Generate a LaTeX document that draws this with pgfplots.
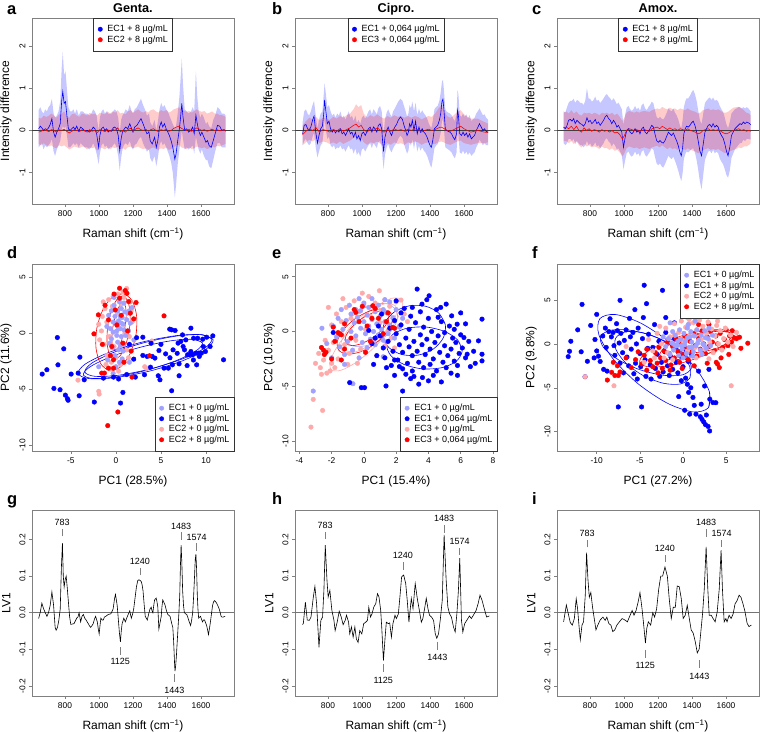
\documentclass[border=0pt]{standalone}
\usepackage{pgfplots}
\pgfplotsset{compat=1.18}
\usepackage{pgfplotstable}
\usepgfplotslibrary{fillbetween}
\usepackage{fontspec}
\setmainfont{Liberation Sans}

\definecolor{lblue}{RGB}{160,160,255}
\definecolor{lpink}{RGB}{255,170,170}
\tikzset{ann/.style={font=\fontsize{9}{10}\selectfont}}

\pgfplotsset{
  rpanel/.style={scale only axis, width=202pt, height=186pt,
    axis line style={draw=black!50}, tick pos=left, tick align=outside,
    major tick length=3pt, tick style={draw=black!50, line width=0.5pt},
    ticklabel style={font=\fontsize{8.4}{10}\selectfont},
    yticklabel style={rotate=90, anchor=south},
    /pgf/number format/assume math mode=true,
    /pgf/number format/1000 sep={},
    label style={font=\fontsize{12}{14}\selectfont},
    xlabel style={at={(axis description cs:0.5,0)}, anchor=base, yshift=-33.5pt},
    ylabel style={at={(axis description cs:-0.128,0.5)}, anchor=center},
    title style={font=\bfseries\fontsize{12.7}{14}\selectfont, at={(axis description cs:0.5,1)}, anchor=base, yshift=-0.5pt},
    legend cell align=left,
    legend style={font=\fontsize{9}{10}\selectfont, draw=black!80, inner xsep=3pt, inner ysep=6pt, row sep=0.5pt, nodes={inner ysep=1pt, inner xsep=1.5pt}},
    legend image code/.code={\path (0pt,0pt) (9pt,0pt); \draw[##1] plot coordinates {(3.5pt,0pt)};}},
  spec/.style={xmin=606, xmax=1794, xtick={800,1000,1200,1400,1600}},
  lvax/.style={spec, ymin=-0.228, ymax=0.281, ytick={-0.2,-0.1,0,0.1,0.2}, xlabel={Raman shift (cm\textsuperscript{−1})},
    yticklabel style={/pgf/number format/fixed, /pgf/number format/fixed zerofill, /pgf/number format/precision=1}},
  sc/.style={only marks, mark=*, mark size=2.3pt, forget plot},
  ell/.style={smooth, line width=0.6pt, forget plot, mark=none},
}

\begin{document}
% ---------- spectra: mean difference with band ----------
\pgfplotstableread{
x y lo hi
645 0.04 -0.40 0.48
655 0.10 -0.35 0.55
664 0.06 -0.30 0.45
674 0.00 -0.45 0.40
684 0.04 -0.35 0.50
694 0.02 -0.40 0.45
703 0.06 -0.35 0.55
713 0.14 -0.30 0.60
723 0.28 -0.20 0.75
733 -0.04 -0.50 0.40
742 -0.16 -0.60 0.30
752 -0.04 -0.45 0.35
762 0.04 -0.35 0.45
772 0.16 -0.25 0.70
781 0.72 0.00 1.50
787 0.92 0.10 1.85
795 0.64 0.05 1.30
803 0.68 0.10 1.40
811 0.36 -0.10 1.00
820 0.04 -0.40 0.55
830 0.00 -0.40 0.45
840 0.04 -0.35 0.45
850 0.08 -0.30 0.50
859 0.02 -0.35 0.40
869 0.10 -0.30 0.50
881 -0.02 -0.40 0.35
892 0.08 -0.30 0.45
904 0.04 -0.35 0.45
918 -0.02 -0.40 0.40
931 0.00 -0.40 0.40
943 -0.04 -0.45 0.35
955 0.00 -0.40 0.40
966 0.08 -0.30 0.50
976 0.04 -0.40 0.45
986 -0.08 -0.55 0.35
998 -0.40 -0.80 0.00
1005 -0.12 -0.55 0.30
1015 0.04 -0.35 0.45
1025 0.08 -0.30 0.50
1035 0.00 -0.40 0.40
1044 0.04 -0.35 0.45
1054 -0.04 -0.45 0.40
1064 0.00 -0.40 0.40
1074 -0.02 -0.40 0.40
1083 0.06 -0.35 0.45
1093 0.08 -0.30 0.50
1103 0.04 -0.40 0.45
1113 -0.12 -0.60 0.30
1122 -0.48 -0.95 -0.05
1130 -0.20 -0.65 0.25
1138 -0.04 -0.45 0.35
1146 0.02 -0.35 0.40
1157 0.08 -0.30 0.50
1169 0.04 -0.35 0.45
1181 0.16 -0.25 0.60
1192 0.04 -0.40 0.45
1200 -0.04 -0.45 0.40
1210 0.08 -0.35 0.50
1223 0.12 -0.30 0.55
1235 0.20 -0.20 0.65
1247 0.28 -0.15 0.75
1259 0.16 -0.30 0.60
1270 0.04 -0.40 0.50
1282 -0.08 -0.50 0.35
1294 -0.04 -0.45 0.40
1301 -0.24 -0.65 0.20
1313 -0.32 -0.75 0.10
1327 -0.16 -0.60 0.25
1337 -0.40 -0.85 0.00
1346 -0.24 -0.65 0.20
1356 0.08 -0.35 0.50
1366 0.20 -0.25 0.65
1375 0.08 -0.35 0.55
1385 0.16 -0.30 0.60
1395 0.04 -0.40 0.50
1405 -0.04 -0.50 0.45
1414 -0.12 -0.60 0.35
1424 -0.24 -0.75 0.25
1434 -0.40 -1.00 0.15
1446 -0.68 -1.58 0.05
1453 -0.56 -1.30 0.10
1463 -0.24 -0.80 0.40
1473 0.04 -0.45 0.80
1481 0.36 -0.20 1.30
1487 0.64 0.00 1.70
1494 0.32 -0.20 1.10
1504 0.00 -0.45 0.50
1516 0.04 -0.40 0.45
1527 -0.04 -0.45 0.40
1541 0.00 -0.40 0.45
1551 0.08 -0.35 0.55
1560 -0.08 -0.55 0.45
1570 0.36 -0.15 1.40
1578 0.16 -0.30 0.80
1586 0.00 -0.45 0.45
1596 -0.12 -0.55 0.30
1605 -0.04 -0.45 0.40
1617 -0.16 -0.60 0.30
1629 -0.28 -0.70 0.15
1638 -0.24 -0.70 0.20
1648 -0.36 -0.85 0.10
1660 -0.40 -0.90 0.05
1672 -0.24 -0.70 0.25
1683 -0.08 -0.50 0.35
1697 0.12 -0.30 0.55
1710 0.10 -0.30 0.50
1722 0.00 -0.40 0.40
1736 0.02 -0.40 0.40
1745 -0.02 -0.40 0.35
}\aBlue
\pgfplotstableread{
x y lo hi
645 -0.04 -0.32 0.30
660 -0.02 -0.35 0.28
675 0.02 -0.30 0.35
690 0.00 -0.35 0.32
705 -0.03 -0.38 0.35
720 0.02 -0.35 0.40
735 0.00 -0.40 0.35
750 -0.04 -0.42 0.30
765 0.02 -0.35 0.38
780 0.00 -0.38 0.40
795 0.03 -0.35 0.45
810 -0.02 -0.40 0.35
825 -0.06 -0.45 0.30
840 -0.02 -0.42 0.38
855 0.02 -0.38 0.40
870 0.00 -0.40 0.35
885 -0.03 -0.42 0.32
900 0.02 -0.38 0.40
915 0.00 -0.40 0.38
930 -0.04 -0.45 0.35
945 0.02 -0.40 0.42
960 -0.02 -0.42 0.38
975 0.00 -0.40 0.40
990 -0.05 -0.48 0.35
1005 0.02 -0.40 0.42
1020 0.00 -0.42 0.40
1035 -0.03 -0.45 0.38
1050 0.02 -0.40 0.45
1065 -0.02 -0.45 0.40
1080 0.03 -0.40 0.45
1095 0.00 -0.42 0.42
1110 0.06 -0.38 0.48
1125 -0.03 -0.45 0.40
1140 0.00 -0.42 0.42
1155 -0.04 -0.46 0.38
1170 0.02 -0.40 0.45
1185 0.05 -0.38 0.48
1200 0.00 -0.42 0.42
1215 0.03 -0.40 0.46
1230 0.06 -0.38 0.50
1245 0.02 -0.42 0.45
1260 0.00 -0.44 0.42
1275 0.03 -0.42 0.46
1290 -0.02 -0.46 0.42
1305 0.02 -0.42 0.48
1320 0.04 -0.40 0.50
1335 0.00 -0.44 0.45
1350 -0.03 -0.46 0.42
1365 0.02 -0.42 0.48
1380 0.00 -0.44 0.45
1395 0.03 -0.40 0.48
1410 -0.02 -0.46 0.42
1425 0.00 -0.44 0.45
1440 0.05 -0.40 0.50
1455 0.08 -0.36 0.52
1470 0.10 -0.34 0.55
1485 0.05 -0.40 0.50
1500 0.02 -0.42 0.46
1515 0.00 -0.44 0.44
1530 0.03 -0.40 0.46
1545 -0.02 -0.44 0.42
1560 0.02 -0.42 0.46
1575 0.06 -0.38 0.50
1590 0.03 -0.40 0.46
1605 0.00 -0.42 0.44
1620 0.02 -0.40 0.46
1635 -0.02 -0.44 0.40
1650 0.00 -0.42 0.42
1665 0.03 -0.38 0.45
1680 0.00 -0.40 0.40
1695 0.02 -0.36 0.40
1710 -0.01 -0.38 0.36
1725 0.01 -0.35 0.36
1745 0.00 -0.32 0.32
}\aRed
\pgfplotstableread{
x y lo hi
651 -0.08 -0.35 0.20
660 0.12 -0.25 0.45
670 0.14 -0.20 0.50
680 0.04 -0.30 0.40
689 0.00 -0.35 0.35
699 0.08 -0.30 0.45
709 0.24 -0.15 0.60
718 0.34 -0.05 0.70
728 -0.04 -0.40 0.35
738 -0.30 -0.64 0.05
747 -0.12 -0.50 0.25
757 0.04 -0.35 0.40
767 0.10 -0.30 0.45
775 0.40 0.00 0.85
780 0.72 0.30 1.12
788 0.44 0.00 0.85
796 0.16 -0.20 0.55
806 0.22 -0.15 0.60
815 0.04 -0.35 0.45
825 -0.04 -0.40 0.35
835 0.02 -0.35 0.40
844 -0.06 -0.45 0.30
854 0.00 -0.40 0.40
864 -0.04 -0.42 0.35
873 0.04 -0.35 0.45
883 -0.08 -0.45 0.30
893 -0.04 -0.42 0.35
903 -0.12 -0.50 0.25
912 -0.04 -0.42 0.35
922 0.04 -0.35 0.45
932 -0.08 -0.45 0.30
941 -0.04 -0.42 0.35
951 -0.16 -0.55 0.22
961 -0.04 -0.42 0.35
970 -0.20 -0.58 0.18
980 -0.12 -0.50 0.25
990 -0.24 -0.62 0.15
999 -0.08 -0.45 0.30
1009 -0.04 -0.42 0.35
1019 -0.12 -0.50 0.28
1028 -0.04 -0.42 0.35
1038 0.04 -0.35 0.45
1048 0.08 -0.30 0.50
1058 -0.04 -0.42 0.38
1067 0.08 -0.30 0.50
1077 0.04 -0.35 0.45
1087 -0.04 -0.42 0.38
1096 0.12 -0.28 0.52
1106 0.16 -0.25 0.58
1116 0.04 -0.38 0.45
1121 -0.24 -0.65 0.18
1127 -0.50 -0.92 -0.08
1135 -0.16 -0.58 0.25
1145 0.00 -0.40 0.42
1154 0.08 -0.32 0.50
1164 -0.04 -0.45 0.40
1174 -0.12 -0.52 0.32
1183 0.00 -0.42 0.45
1193 0.08 -0.35 0.52
1203 0.14 -0.30 0.60
1213 0.24 -0.20 0.68
1226 0.32 -0.12 0.75
1238 0.26 -0.18 0.70
1247 0.12 -0.32 0.58
1257 0.00 -0.45 0.45
1265 -0.12 -0.55 0.32
1273 -0.04 -0.48 0.40
1280 0.16 -0.28 0.60
1288 0.08 -0.36 0.52
1296 0.24 -0.20 0.68
1306 0.00 -0.44 0.45
1315 0.22 -0.22 0.66
1325 -0.08 -0.50 0.36
1335 0.08 -0.36 0.52
1344 -0.04 -0.48 0.40
1354 0.04 -0.40 0.48
1364 -0.04 -0.48 0.40
1373 -0.08 -0.52 0.36
1383 -0.16 -0.60 0.28
1393 -0.28 -0.72 0.16
1401 -0.36 -0.82 0.10
1408 -0.40 -0.88 0.06
1416 -0.24 -0.70 0.22
1426 0.04 -0.42 0.50
1435 0.08 -0.36 0.55
1445 0.12 -0.32 0.58
1455 0.24 -0.20 0.70
1463 0.40 -0.05 0.90
1470 0.68 0.20 1.15
1476 0.74 0.28 1.20
1482 0.48 0.05 0.95
1490 0.04 -0.40 0.50
1497 0.00 -0.42 0.45
1507 -0.02 -0.45 0.42
1517 -0.04 -0.48 0.40
1527 -0.08 -0.52 0.36
1536 -0.16 -0.60 0.28
1546 -0.22 -0.66 0.22
1556 -0.08 -0.52 0.40
1562 0.48 0.00 0.96
1567 0.36 -0.10 0.85
1575 -0.08 -0.52 0.36
1585 -0.12 -0.55 0.32
1594 -0.04 -0.48 0.40
1604 -0.12 -0.56 0.32
1614 -0.06 -0.50 0.38
1623 -0.16 -0.58 0.28
1633 -0.08 -0.52 0.36
1643 -0.20 -0.60 0.22
1652 -0.16 -0.56 0.26
1662 -0.12 -0.52 0.30
1672 0.00 -0.40 0.40
1682 0.08 -0.32 0.46
1691 0.16 -0.22 0.52
1701 0.08 -0.28 0.44
1711 0.00 -0.35 0.36
1721 0.04 -0.30 0.38
1730 -0.02 -0.35 0.30
1742 -0.04 -0.35 0.25
}\bBlue
\pgfplotstableread{
x y lo hi
651 -0.10 -0.35 0.12
670 -0.02 -0.28 0.22
690 0.04 -0.22 0.30
710 0.00 -0.26 0.26
730 0.06 -0.20 0.32
750 -0.04 -0.30 0.24
770 0.02 -0.26 0.30
790 0.00 -0.28 0.28
810 -0.04 -0.32 0.25
830 0.02 -0.28 0.32
850 -0.02 -0.32 0.28
870 0.04 -0.26 0.34
890 -0.02 -0.32 0.30
910 0.02 -0.28 0.36
930 0.06 -0.24 0.40
950 0.12 -0.18 0.50
965 0.15 -0.15 0.62
980 0.08 -0.22 0.55
995 0.12 -0.18 0.60
1010 0.02 -0.28 0.40
1030 -0.04 -0.34 0.30
1050 0.04 -0.28 0.36
1070 0.00 -0.30 0.32
1090 0.06 -0.26 0.38
1110 0.00 -0.32 0.32
1130 -0.04 -0.36 0.28
1150 0.02 -0.30 0.34
1170 -0.02 -0.34 0.30
1190 0.04 -0.28 0.36
1210 0.00 -0.32 0.32
1230 0.02 -0.30 0.34
1250 -0.02 -0.34 0.30
1270 0.03 -0.28 0.34
1290 0.00 -0.30 0.30
1310 0.04 -0.26 0.34
1330 0.02 -0.28 0.32
1350 -0.04 -0.34 0.26
1370 0.00 -0.30 0.30
1390 0.03 -0.28 0.34
1410 0.00 -0.32 0.32
1430 0.02 -0.32 0.40
1450 0.06 -0.28 0.52
1465 0.08 -0.26 0.58
1480 0.05 -0.28 0.50
1500 0.00 -0.32 0.34
1520 -0.02 -0.34 0.30
1540 0.02 -0.30 0.36
1560 0.06 -0.26 0.44
1580 0.10 -0.24 0.48
1600 0.04 -0.30 0.38
1620 0.00 -0.32 0.32
1640 -0.04 -0.34 0.28
1660 -0.02 -0.32 0.28
1680 0.00 -0.30 0.28
1700 -0.02 -0.30 0.24
1720 -0.04 -0.30 0.20
1742 -0.05 -0.28 0.16
}\bRed
\pgfplotstableread{
x y lo hi
645 0.08 -0.30 0.45
655 0.04 -0.35 0.42
665 0.12 -0.30 0.55
674 0.24 -0.20 0.65
684 0.26 -0.20 0.70
694 0.22 -0.25 0.70
704 0.28 -0.20 0.75
713 0.16 -0.32 0.65
723 0.24 -0.25 0.72
733 0.20 -0.30 0.70
743 0.16 -0.35 0.65
753 0.14 -0.35 0.65
762 0.10 -0.40 0.60
772 0.16 -0.35 0.70
782 0.30 -0.25 1.00
792 0.20 -0.35 0.75
801 0.24 -0.30 0.75
811 0.16 -0.38 0.68
821 0.20 -0.35 0.72
831 0.26 -0.28 0.80
840 0.16 -0.38 0.70
850 0.20 -0.35 0.72
860 0.12 -0.42 0.65
870 0.18 -0.36 0.70
880 0.24 -0.30 0.76
889 0.32 -0.22 0.82
899 0.36 -0.18 0.86
909 0.28 -0.26 0.80
919 0.24 -0.30 0.76
928 0.16 -0.38 0.70
938 0.24 -0.30 0.76
948 0.18 -0.36 0.70
958 0.08 -0.45 0.62
967 0.12 -0.42 0.66
977 0.04 -0.50 0.58
987 -0.04 -0.58 0.50
997 -0.40 -0.92 0.12
1007 -0.16 -0.70 0.38
1016 0.00 -0.54 0.54
1026 0.04 -0.50 0.58
1036 -0.04 -0.58 0.50
1046 -0.08 -0.62 0.46
1055 -0.04 -0.58 0.50
1065 0.04 -0.50 0.58
1075 -0.04 -0.58 0.50
1085 0.00 -0.54 0.54
1094 -0.08 -0.62 0.46
1104 0.04 -0.50 0.60
1114 0.08 -0.46 0.64
1124 -0.04 -0.58 0.52
1134 -0.08 -0.62 0.48
1143 -0.02 -0.56 0.55
1153 0.04 -0.50 0.60
1163 0.12 -0.42 0.68
1173 0.08 -0.46 0.64
1182 -0.08 -0.62 0.48
1192 -0.24 -0.78 0.32
1202 -0.28 -0.82 0.28
1212 -0.24 -0.78 0.32
1221 -0.28 -0.85 0.28
1231 -0.30 -0.88 0.26
1241 -0.24 -0.80 0.32
1251 -0.14 -0.70 0.42
1261 -0.04 -0.60 0.52
1270 -0.08 -0.64 0.48
1280 -0.12 -0.68 0.45
1290 -0.06 -0.62 0.52
1300 -0.16 -0.72 0.42
1309 -0.24 -0.82 0.36
1319 -0.36 -0.95 0.26
1329 -0.52 -1.10 0.12
1337 -0.60 -1.20 0.05
1345 -0.40 -1.00 0.25
1352 -0.08 -0.68 0.55
1360 0.04 -0.56 0.68
1368 0.10 -0.50 0.76
1378 0.08 -0.52 0.76
1388 0.12 -0.48 0.82
1397 0.18 -0.44 0.90
1407 0.22 -0.42 0.96
1417 0.12 -0.52 0.86
1427 -0.04 -0.70 0.70
1436 -0.24 -0.92 0.48
1446 -0.48 -1.20 0.25
1456 -0.60 -1.40 0.15
1466 -0.32 -1.05 0.40
1476 -0.04 -0.70 0.65
1485 0.04 -0.60 0.70
1495 0.12 -0.50 0.75
1505 0.14 -0.48 0.78
1515 0.08 -0.54 0.72
1524 0.16 -0.46 0.78
1534 0.08 -0.54 0.70
1544 0.12 -0.50 0.72
1554 0.08 -0.54 0.68
1563 -0.04 -0.66 0.58
1573 -0.12 -0.74 0.50
1583 -0.18 -0.80 0.44
1593 -0.32 -0.92 0.30
1602 -0.48 -1.05 0.15
1612 -0.60 -1.12 0.05
1622 -0.40 -0.95 0.20
1632 -0.12 -0.65 0.40
1642 -0.04 -0.55 0.45
1652 0.04 -0.45 0.50
1662 0.08 -0.40 0.52
1672 0.12 -0.35 0.55
1682 0.16 -0.30 0.55
1692 0.14 -0.30 0.52
1702 0.20 -0.22 0.55
1712 0.16 -0.25 0.52
1722 0.20 -0.20 0.55
1732 0.18 -0.20 0.52
1745 0.14 -0.22 0.45
}\cBlue
\pgfplotstableread{
x y lo hi
645 0.06 -0.25 0.42
660 0.08 -0.25 0.45
675 0.04 -0.30 0.40
690 0.10 -0.25 0.48
705 0.02 -0.32 0.40
720 0.10 -0.25 0.45
735 0.00 -0.35 0.38
750 -0.04 -0.40 0.35
765 0.06 -0.32 0.42
780 0.00 -0.38 0.40
795 0.04 -0.35 0.42
810 -0.02 -0.40 0.38
825 0.02 -0.38 0.42
840 0.00 -0.40 0.40
855 -0.04 -0.44 0.36
870 0.02 -0.38 0.42
885 -0.02 -0.42 0.40
900 0.00 -0.42 0.42
915 -0.04 -0.46 0.38
930 0.00 -0.42 0.42
945 -0.06 -0.48 0.36
960 -0.04 -0.46 0.40
975 -0.10 -0.52 0.32
990 -0.20 -0.62 0.22
1000 -0.14 -0.56 0.28
1015 0.00 -0.42 0.42
1030 0.04 -0.38 0.46
1045 0.02 -0.40 0.44
1060 0.00 -0.42 0.42
1075 0.02 -0.40 0.45
1090 -0.02 -0.44 0.42
1105 0.00 -0.42 0.45
1120 0.02 -0.40 0.46
1135 0.00 -0.42 0.45
1150 -0.02 -0.44 0.44
1165 0.04 -0.40 0.48
1180 0.06 -0.38 0.50
1195 0.08 -0.36 0.52
1210 0.04 -0.40 0.50
1225 0.10 -0.35 0.56
1240 0.06 -0.40 0.52
1255 0.02 -0.44 0.50
1270 0.06 -0.40 0.54
1285 0.02 -0.44 0.50
1300 0.04 -0.42 0.52
1315 0.00 -0.46 0.48
1330 0.04 -0.42 0.52
1345 0.02 -0.44 0.50
1360 0.00 -0.46 0.48
1375 0.04 -0.42 0.52
1390 0.00 -0.46 0.48
1405 -0.02 -0.48 0.46
1420 -0.04 -0.50 0.44
1435 -0.08 -0.54 0.40
1450 -0.06 -0.52 0.42
1465 0.00 -0.46 0.48
1480 0.02 -0.44 0.50
1495 0.04 -0.42 0.52
1510 0.00 -0.46 0.48
1525 0.02 -0.44 0.50
1540 0.00 -0.46 0.48
1555 0.02 -0.44 0.50
1570 -0.02 -0.48 0.46
1585 -0.06 -0.52 0.42
1600 -0.08 -0.54 0.42
1615 -0.06 -0.52 0.45
1630 -0.02 -0.48 0.50
1645 0.00 -0.46 0.54
1660 0.02 -0.44 0.55
1675 0.04 -0.40 0.56
1690 0.00 -0.42 0.52
1705 0.02 -0.38 0.48
1720 -0.02 -0.38 0.42
1735 0.00 -0.34 0.40
1745 -0.02 -0.30 0.36
}\cRed
% ---------- LV1 loadings ----------
\pgfplotstableread{
x y
645 -0.016
655 0.002
664 0.026
674 0.011
684 0.000
694 -0.010
703 0.000
713 0.020
723 0.057
733 0.020
742 -0.040
748 -0.048
756 -0.040
764 -0.020
772 0.010
779 0.125
785 0.190
790 0.100
795 0.070
801 0.090
807 0.100
813 0.070
820 0.030
827 -0.010
834 -0.032
853 -0.030
869 -0.015
876 -0.012
883 0.000
892 -0.025
900 -0.010
908 -0.005
916 -0.015
924 -0.020
937 -0.030
944 -0.036
951 -0.040
958 -0.036
966 -0.030
973 -0.018
980 -0.010
990 -0.025
996 -0.045
1001 -0.058
1006 -0.035
1011 -0.015
1018 -0.020
1025 -0.020
1032 -0.012
1040 -0.010
1054 -0.005
1070 -0.003
1083 0.010
1092 0.040
1097 0.050
1102 0.035
1107 0.020
1114 -0.020
1120 -0.055
1126 -0.080
1131 -0.050
1136 -0.030
1146 -0.015
1155 -0.025
1167 -0.010
1181 0.005
1190 -0.015
1197 -0.005
1204 0.010
1212 0.040
1220 0.070
1228 0.088
1235 0.090
1242 0.088
1249 0.085
1254 0.075
1259 0.060
1266 0.020
1272 -0.010
1284 -0.020
1294 0.000
1300 0.010
1307 0.015
1312 0.005
1317 0.000
1322 0.020
1327 0.035
1336 0.040
1341 0.030
1346 0.015
1352 -0.045
1358 -0.030
1366 -0.010
1370 0.015
1375 0.035
1382 0.028
1389 0.020
1397 0.005
1405 -0.005
1418 -0.010
1428 -0.030
1434 -0.040
1438 -0.070
1441 -0.100
1445 -0.145
1447 -0.160
1451 -0.145
1455 -0.120
1460 -0.080
1465 -0.040
1470 0.000
1475 0.050
1479 0.130
1483 0.185
1487 0.140
1492 0.060
1497 0.020
1502 0.000
1509 -0.003
1516 -0.005
1522 -0.012
1527 -0.020
1533 -0.028
1539 -0.035
1545 -0.020
1551 0.000
1556 0.040
1562 0.100
1566 0.145
1570 0.160
1574 0.120
1578 0.050
1582 0.010
1586 -0.015
1592 -0.012
1597 -0.010
1603 -0.018
1609 -0.025
1615 -0.020
1621 -0.020
1627 -0.028
1633 -0.035
1639 -0.048
1644 -0.060
1649 -0.045
1654 -0.030
1661 -0.005
1668 0.020
1674 0.030
1679 0.033
1686 0.030
1693 0.025
1700 0.018
1707 0.010
1713 0.000
1718 -0.010
1724 -0.012
1730 -0.012
1742 -0.010
}\gLV
\pgfplotstableread{
x y
649 -0.032
655 -0.030
667 0.029
678 -0.020
690 -0.021
700 -0.012
713 0.040
723 0.072
733 0.025
747 -0.095
758 -0.021
768 -0.012
776 0.061
784 0.185
794 0.089
801 0.043
811 0.061
823 0.006
835 -0.021
842 -0.049
854 -0.026
866 0.004
878 -0.012
889 -0.033
901 -0.021
909 -0.007
921 -0.026
928 -0.058
938 -0.039
948 -0.067
958 -0.039
967 -0.072
977 -0.081
987 -0.049
999 -0.058
1010 -0.030
1022 -0.026
1032 -0.021
1040 0.015
1050 -0.012
1059 -0.003
1069 0.015
1081 0.025
1091 0.052
1100 0.043
1110 0.006
1116 -0.039
1126 -0.131
1136 -0.067
1143 -0.026
1155 -0.030
1163 -0.028
1173 -0.067
1182 -0.030
1194 -0.007
1202 -0.016
1214 -0.003
1223 0.043
1233 0.098
1245 0.103
1257 0.080
1266 0.034
1276 -0.026
1290 0.039
1300 0.011
1313 0.080
1325 0.039
1339 0.002
1349 -0.026
1358 -0.016
1368 0.011
1378 0.039
1388 0.011
1397 -0.007
1409 -0.012
1421 -0.021
1431 -0.058
1440 -0.070
1450 -0.058
1460 -0.021
1472 0.034
1483 0.213
1495 0.089
1505 0.015
1515 -0.003
1526 -0.012
1538 -0.039
1548 -0.053
1558 -0.003
1567 0.061
1575 0.149
1585 -0.021
1593 -0.053
1604 -0.030
1616 -0.021
1632 -0.009
1643 -0.016
1655 -0.007
1671 0.006
1683 0.025
1694 0.048
1706 0.034
1719 0.011
1733 -0.012
1749 -0.009
}\hLV
\pgfplotstableread{
x y
645 -0.025
651 -0.007
661 0.021
670 0.002
684 -0.027
696 -0.034
708 -0.016
719 0.038
727 0.011
735 -0.034
743 -0.074
753 -0.034
762 -0.025
772 0.046
780 0.164
788 0.091
796 0.042
805 0.055
815 0.015
825 -0.016
835 -0.047
846 -0.034
860 -0.020
876 -0.012
889 -0.021
899 -0.012
911 -0.030
923 -0.034
934 -0.052
946 -0.047
958 -0.034
973 -0.025
989 -0.016
1005 -0.020
1020 -0.025
1036 -0.007
1048 0.006
1059 -0.007
1071 0.006
1083 0.029
1094 0.055
1106 0.011
1114 -0.025
1126 -0.083
1134 -0.043
1143 -0.025
1157 -0.034
1169 0.000
1180 -0.012
1192 0.011
1204 0.064
1216 0.100
1227 0.100
1241 0.125
1255 0.100
1266 0.038
1278 -0.016
1290 0.015
1302 0.015
1313 0.073
1325 0.071
1337 0.038
1348 -0.016
1360 -0.007
1372 0.020
1384 -0.016
1395 -0.047
1407 -0.056
1419 -0.079
1431 -0.110
1442 -0.100
1452 -0.052
1462 -0.003
1472 0.064
1483 0.180
1493 0.064
1501 -0.007
1513 -0.007
1524 -0.016
1536 -0.025
1548 0.002
1560 0.064
1571 0.171
1579 0.064
1589 -0.025
1599 -0.016
1606 -0.025
1618 -0.007
1630 -0.016
1642 -0.003
1653 0.024
1665 0.033
1677 0.048
1688 0.042
1700 0.024
1712 0.002
1724 -0.029
1735 -0.038
1749 -0.034
}\iLV

\begin{tikzpicture}[x=1pt,y=1pt]

% ================= row 1 =================
\begin{axis}[rpanel, spec, at={(32pt,713pt)}, anchor=north west,
  ymin=-1.74, ymax=2.66, ytick={-1,0,1,2}, title={Genta.},
  xlabel={Raman shift (cm\textsuperscript{−1})}, ylabel={Intensity difference},
  legend style={at={(0.5,1)}, anchor=north}]
\addplot[name path=abh, draw=none, forget plot] table[x=x,y=hi]{\aBlue};
\addplot[name path=abl, draw=none, forget plot] table[x=x,y=lo]{\aBlue};
\addplot[fill=blue, fill opacity=0.22, draw=none, forget plot] fill between[of=abh and abl];
\addplot[name path=arh, draw=none, forget plot] table[x=x,y=hi]{\aRed};
\addplot[name path=arl, draw=none, forget plot] table[x=x,y=lo]{\aRed};
\addplot[fill=red, fill opacity=0.2, draw=none, forget plot] fill between[of=arh and arl];
\addplot[black!75, line width=0.5pt, forget plot] coordinates {(606,0) (1794,0)};
\addplot[blue, line width=0.6pt, forget plot] table[x=x,y=y]{\aBlue};
\addplot[red, line width=0.6pt, forget plot] table[x=x,y=y]{\aRed};
\addlegendimage{only marks, mark=*, mark size=2.2pt, blue}\addlegendentry{EC1 + 8 µg/mL\hspace{7pt}}
\addlegendimage{only marks, mark=*, mark size=2.2pt, red}\addlegendentry{EC2 + 8 µg/mL\hspace{7pt}}
\end{axis}

\begin{axis}[rpanel, spec, at={(295pt,713pt)}, anchor=north west,
  ymin=-1.74, ymax=2.66, ytick={-1,0,1,2}, title={Cipro.},
  xlabel={Raman shift (cm\textsuperscript{−1})}, ylabel={Intensity difference},
  legend style={at={(0.5,1)}, anchor=north}]
\addplot[name path=bbh, draw=none, forget plot] table[x=x,y=hi]{\bBlue};
\addplot[name path=bbl, draw=none, forget plot] table[x=x,y=lo]{\bBlue};
\addplot[fill=blue, fill opacity=0.22, draw=none, forget plot] fill between[of=bbh and bbl];
\addplot[name path=brh, draw=none, forget plot] table[x=x,y=hi]{\bRed};
\addplot[name path=brl, draw=none, forget plot] table[x=x,y=lo]{\bRed};
\addplot[fill=red, fill opacity=0.2, draw=none, forget plot] fill between[of=brh and brl];
\addplot[black!75, line width=0.5pt, forget plot] coordinates {(606,0) (1794,0)};
\addplot[blue, line width=0.6pt, forget plot] table[x=x,y=y]{\bBlue};
\addplot[red, line width=0.6pt, forget plot] table[x=x,y=y]{\bRed};
\addlegendimage{only marks, mark=*, mark size=2.2pt, blue}\addlegendentry{EC1 + 0,064 µg/mL\hspace{7pt}}
\addlegendimage{only marks, mark=*, mark size=2.2pt, red}\addlegendentry{EC3 + 0,064 µg/mL\hspace{7pt}}
\end{axis}

\begin{axis}[rpanel, spec, at={(557pt,713pt)}, anchor=north west,
  ymin=-1.74, ymax=2.66, ytick={-1,0,1,2}, title={Amox.},
  xlabel={Raman shift (cm\textsuperscript{−1})}, ylabel={Intensity difference},
  legend style={at={(0.5,1)}, anchor=north}]
\addplot[name path=cbh, draw=none, forget plot] table[x=x,y=hi]{\cBlue};
\addplot[name path=cbl, draw=none, forget plot] table[x=x,y=lo]{\cBlue};
\addplot[fill=blue, fill opacity=0.22, draw=none, forget plot] fill between[of=cbh and cbl];
\addplot[name path=crh, draw=none, forget plot] table[x=x,y=hi]{\cRed};
\addplot[name path=crl, draw=none, forget plot] table[x=x,y=lo]{\cRed};
\addplot[fill=red, fill opacity=0.2, draw=none, forget plot] fill between[of=crh and crl];
\addplot[black!75, line width=0.5pt, forget plot] coordinates {(606,0) (1794,0)};
\addplot[blue, line width=0.6pt, forget plot] table[x=x,y=y]{\cBlue};
\addplot[red, line width=0.6pt, forget plot] table[x=x,y=y]{\cRed};
\addlegendimage{only marks, mark=*, mark size=2.2pt, blue}\addlegendentry{EC1 + 8 µg/mL\hspace{7pt}}
\addlegendimage{only marks, mark=*, mark size=2.2pt, red}\addlegendentry{EC2 + 8 µg/mL\hspace{7pt}}
\end{axis}

% ================= row 2 =================
\begin{axis}[rpanel, at={(32pt,467pt)}, anchor=north west, height=187pt,
  xmin=-9.3, xmax=13.1, ymin=-10.54, ymax=6.19, xtick={-5,0,5,10}, ytick={-10,-5,0,5},
  xlabel={PC1 (28.5\%)}, ylabel={PC2 (11.6\%)},
  legend style={at={(1,0)}, anchor=south east}]
\addplot[sc, lpink] coordinates {(-1.5,1.5)(-1.2,2.2)(-0.8,3.0)(0.2,3.5)(0.8,3.7)(1.2,4.0)(1.6,2.8)(-1.6,0.2)(-1.3,-1.0)(-1.0,-2.0)(-0.5,-2.6)(0.5,-2.8)(1.2,-1.5)(1.5,-0.3)(1.8,1.0)(-1.8,-0.6)(-1.0,1.0)(-0.4,2.4)(0.6,2.6)(1.0,0.0)(-0.2,-1.2)(0.2,1.8)(-0.7,-0.3)(1.3,1.9)(-1.4,2.8)(0.9,3.2)(-0.3,3.3)(1.4,-2.2)(-0.6,-3.2)(0.3,-3.4)(-4.2,-4.2)(-1.9,-5.2)(-1.85,-5.45)(3.2,-3.0)(3.4,-3.15)(4.0,-0.7)(-1.9,0.8)(1.7,2.0)(-1.1,-2.8)(0.0,-2.2)};
\addplot[sc, lblue] coordinates {(0.2,2.0)(0.5,1.5)(-0.3,1.0)(0.8,0.8)(0.1,0.2)(-0.5,-0.5)(0.6,-0.3)(1.0,1.9)(-0.2,2.5)(0.4,2.8)(1.2,1.2)(0.9,-1.0)(-0.6,0.4)(0.3,-1.5)(-0.1,-2.0)(0.7,-2.3)(-0.8,1.6)(0.0,0.9)(1.4,0.2)(0.5,0.4)(-0.4,-1.3)(0.2,-0.8)(1.1,-0.2)(0.6,2.2)(-0.1,1.5)(0.3,1.1)(0.9,0.3)(-0.7,-0.9)(0.4,-2.6)(0.0,-3.0)(1.3,1.8)(-1.0,0.6)(0.7,1.4)(0.2,0.6)(-0.3,0.1)(1.5,2.0)(0.8,-1.6)(-0.5,2.0)(0.1,-0.2)(0.6,0.9)(1.6,0.9)(-1.9,-3.0)(1.5,-2.6)(-0.3,-3.6)(-0.9,-2.4)(2.0,-0.6)(1.8,2.3)(0.9,2.7)(-0.2,3.2)(0.5,-1.1)};
\addplot[sc, blue] coordinates {(-8.17,-3.66)(-7.65,-3.27)(-6.49,-0.39)(-6.42,-2.83)(-5.78,-1.4)(-6.87,-4.94)(-6.19,-5.06)(-5.6,-5.54)(-5.37,-5.86)(-5.3,-6.0)(-4.96,-3.66)(-4.18,-3.57)(-3.99,-2.14)(-4.07,-5.6)(-3.51,-4.17)(-2.39,-6.16)(-1.38,-4.02)(0.52,-6.25)(0.78,-5.3)(-0.26,-3.93)(1.98,-2.32)(2.16,-3.93)(2.99,-0.36)(2.99,-1.99)(3.17,-3.72)(3.47,-2.08)(4.03,-2.08)(4.33,-2.23)(4.78,-1.55)(4.89,-4.17)(5.34,-3.13)(5.97,0.36)(6.19,0.3)(6.34,-1.49)(6.57,0.24)(6.27,-2.83)(6.19,-5.15)(6.9,-0.89)(7.01,-2.74)(7.01,-3.81)(7.2,-0.74)(7.39,-0.15)(7.46,-1.19)(7.61,-1.49)(7.76,-0.6)(7.95,-1.93)(8.13,-1.93)(8.32,0.45)(8.32,-1.64)(8.51,-1.93)(8.62,-0.45)(8.88,-1.79)(8.96,-2.83)(9.07,-0.45)(9.18,-1.79)(9.25,-2.08)(9.48,-1.79)(9.63,-0.54)(9.93,-1.64)(10.07,-0.36)(10.45,-1.19)(10.75,-0.24)(11.94,-2.38)(5.52,-1.85)(5.82,-3.13)(3.84,-3.04)(4.7,-3.81)(2.3,-0.4)(1.2,-3.7)(0.3,-4.1)(7.9,-2.9)(6.8,-1.8)(5.0,-1.0)(9.7,-1.2)(8.6,-2.4)(6.0,-2.2)(1.5,-1.0)(3.9,-0.9)};
\addplot[sc, red] coordinates {(0.41,4.02)(1.04,3.81)(1.23,3.57)(1.42,2.83)(2.24,2.74)(1.98,1.28)(-2.43,-0.06)(-1.94,1.64)(-1.57,-3.57)(-1.27,-3.57)(-0.82,-3.13)(-0.26,-3.13)(-0.26,-2.38)(1.79,-3.93)(3.73,-2.02)(5.34,1.55)(0.22,-7.05)(-0.9,-8.27)(0.41,3.13)(-0.07,2.08)(-0.82,1.19)(1.6,1.79)(-0.45,-1.19)(0.78,-0.89)(0.11,0.74)(-1.2,2.5)(1.3,0.2)(-0.6,-2.0)(0.9,-2.6)(0.6,1.6)(-1.5,-1.0)(1.7,-1.6)(-0.2,3.5)};
\addplot[ell, blue] coordinates {(10.79,-0.59)(9.59,-0.14)(6.70,-0.22)(2.90,-0.80)(-0.79,-1.73)(-3.39,-2.76)(-4.19,-3.61)(-2.99,-4.06)(-0.10,-3.98)(3.70,-3.40)(7.39,-2.47)(9.99,-1.44)(10.79,-0.59)(9.59,-0.14)};
\addplot[ell, blue] coordinates {(10.65,-0.53)(9.52,-0.14)(6.80,-0.25)(3.23,-0.83)(-0.25,-1.72)(-2.69,-2.69)(-3.45,-3.47)(-2.32,-3.86)(0.40,-3.75)(3.97,-3.17)(7.45,-2.28)(9.89,-1.31)(10.65,-0.53)(9.52,-0.14)};
\addplot[ell, blue] coordinates {(9.61,-0.87)(8.55,-0.55)(6.01,-0.69)(2.66,-1.27)(-0.60,-2.12)(-2.89,-3.02)(-3.61,-3.73)(-2.55,-4.05)(-0.01,-3.91)(3.34,-3.33)(6.60,-2.48)(8.89,-1.58)(9.61,-0.87)(8.55,-0.55)};
\addplot[ell, red] coordinates {(0.80,3.53)(-0.39,3.23)(-1.45,2.08)(-2.12,0.41)(-2.20,-1.35)(-1.69,-2.72)(-0.70,-3.33)(0.49,-3.03)(1.55,-1.88)(2.22,-0.21)(2.30,1.55)(1.79,2.92)(0.80,3.53)(-0.39,3.23)};
\addplot[ell, red] coordinates {(0.79,3.33)(0.12,3.02)(-0.49,2.04)(-0.90,0.64)(-0.98,-0.80)(-0.72,-1.88)(-0.19,-2.33)(0.48,-2.02)(1.09,-1.04)(1.50,0.36)(1.58,1.80)(1.32,2.88)(0.79,3.33)(0.12,3.02)};
\addplot[ell, red] coordinates {(0.81,2.71)(0.42,2.47)(0.02,1.73)(-0.30,0.69)(-0.44,-0.37)(-0.37,-1.18)(-0.11,-1.51)(0.28,-1.27)(0.68,-0.53)(1.00,0.51)(1.14,1.57)(1.07,2.38)(0.81,2.71)(0.42,2.47)};
\addlegendimage{only marks, mark=*, mark size=2.2pt, lblue}\addlegendentry{EC1 + 0 µg/mL}
\addlegendimage{only marks, mark=*, mark size=2.2pt, blue}\addlegendentry{EC1 + 8 µg/mL}
\addlegendimage{only marks, mark=*, mark size=2.2pt, lpink}\addlegendentry{EC2 + 0 µg/mL}
\addlegendimage{only marks, mark=*, mark size=2.2pt, red}\addlegendentry{EC2 + 8 µg/mL}
\end{axis}

\begin{axis}[rpanel, at={(295pt,467pt)}, anchor=north west, height=187pt,
  xmin=-4.27, xmax=8.25, ymin=-10.9, ymax=6.16, xtick={-4,-2,0,2,4,6,8}, ytick={-10,-5,0,5},
  xlabel={PC1 (15.4\%)}, ylabel={PC2 (10.5\%)},
  legend style={at={(1,0)}, anchor=south east}]
\addplot[sc, lpink] coordinates {(-3.28,-8.72)(-3.14,-6.19)(-2.56,-7.2)(-2.63,-3.9)(-2.3,-3.8)(-2.1,-3.6)(-2.5,-2.6)(-2.0,-2.9)(-1.8,-3.3)(-2.2,-1.7)(-1.6,-2.5)(-2.4,-0.8)(-1.9,-1.0)(-1.5,-0.2)(-1.2,-1.2)(-2.0,0.6)(-1.7,1.6)(-1.4,0.9)(-1.1,2.2)(-0.9,-2.0)(-0.8,1.2)(-0.6,2.8)(-0.5,-0.8)(-0.3,1.8)(-0.2,-1.6)(0.0,2.4)(0.1,0.2)(0.3,3.2)(0.4,1.4)(0.6,-0.9)(0.7,2.6)(0.96,3.72)(1.0,0.8)(1.1,1.9)(1.3,2.9)(1.5,0.1)(1.6,2.3)(1.8,1.3)(2.0,2.7)(2.3,2.87)(2.2,0.5)(1.7,-0.6)(2.5,1.6)(-1.0,-3.0)(-2.8,-2.0)(-0.4,-2.9)(0.8,-2.2)(1.3,-1.3)(-3.0,-2.9)(-2.7,-3.3)(-1.3,3.0)(-0.1,3.5)(2.7,0.9)(-2.2,2.2)(1.9,-1.5)};
\addplot[sc, lblue] coordinates {(-1.9,0.5)(-1.7,-0.5)(-1.6,1.2)(-1.5,-1.4)(-1.4,2.0)(-1.3,0.2)(-1.2,-2.1)(-1.1,1.0)(-1.0,-0.9)(-0.9,2.4)(-0.8,0.0)(-0.8,1.6)(-0.7,-1.7)(-0.6,0.8)(-0.5,2.0)(-0.5,-0.4)(-0.4,1.3)(-0.3,-2.4)(-0.2,0.3)(-0.2,1.9)(-0.1,-1.0)(0.0,0.9)(0.0,2.6)(0.1,-0.2)(0.2,1.5)(0.2,-1.5)(0.3,0.5)(0.3,2.2)(0.4,-0.7)(0.5,1.1)(0.5,3.0)(0.6,0.0)(0.7,1.8)(0.7,-1.2)(0.8,0.7)(0.9,2.4)(0.9,-0.3)(1.0,1.4)(1.1,0.2)(1.2,2.0)(1.2,-0.8)(1.3,0.9)(1.4,1.7)(1.5,-0.2)(1.6,2.7)(1.6,0.6)(1.8,1.2)(1.9,-0.6)(2.0,2.0)(2.2,0.4)(-2.3,-1.1)(-2.0,-2.4)(-3.14,-5.43)(-0.68,-4.76)(-1.2,-3.0)(1.2,-2.3)(-2.6,0.3)(2.4,1.2)(-0.3,3.0)(1.3,2.9)};
\addplot[sc, blue] coordinates {(1.0,-0.4)(1.2,-1.5)(1.3,-2.4)(1.5,-0.9)(1.6,0.3)(1.7,-3.1)(1.8,-1.8)(1.9,1.0)(2.0,-0.2)(2.1,-2.6)(2.2,-1.2)(2.3,0.6)(2.4,-3.4)(2.4,-1.9)(2.5,2.1)(2.6,-0.6)(2.7,-2.9)(2.8,0.2)(2.8,-1.4)(2.9,1.4)(3.0,-2.2)(3.0,-3.6)(3.1,-0.9)(3.2,0.8)(3.3,-1.8)(3.3,3.87)(3.4,-2.8)(3.5,-0.3)(3.5,1.8)(3.6,-1.2)(3.7,-3.3)(3.7,0.4)(3.8,-2.1)(3.9,-0.7)(4.0,1.2)(4.04,3.26)(4.1,-1.6)(4.1,-3.0)(4.2,0.0)(4.3,-2.5)(4.4,-1.0)(4.5,2.0)(4.5,-3.6)(4.6,-0.4)(4.7,-1.9)(4.76,2.2)(4.8,0.9)(4.9,-2.8)(5.0,-1.3)(5.0,-0.1)(5.1,-3.3)(5.2,-2.2)(5.3,0.5)(5.44,1.43)(5.4,-1.6)(5.5,-0.6)(5.6,-2.7)(5.7,-1.0)(5.78,0.67)(5.8,-3.1)(5.9,-2.0)(6.0,-0.3)(6.2,-0.55)(6.1,-1.5)(6.3,-2.4)(6.4,-2.07)(6.5,-0.9)(6.6,-3.2)(6.8,-1.8)(7.1,-0.85)(7.32,1.13)(7.32,-2.07)(7.32,-2.68)(6.9,-2.9)(3.63,-4.2)(2.4,-5.43)(1.37,-4.97)(-0.16,-5.12)(0.04,-5.12)(-0.88,-4.66)(-1.9,-0.09)(0.6,-3.0)(0.8,-2.2)(0.5,-1.1)(0.9,0.5)(1.1,1.6)(2.0,2.8)(2.3,1.7)(3.6,2.5)(3.0,2.2)(4.3,-4.0)(5.4,-3.8)(4.0,-4.5)(6.0,1.7)(5.8,-4.0)(2.9,-4.3)(1.9,-4.0)(3.4,-4.8)(5.1,2.5)(2.6,-3.9)(4.8,-4.6)(6.3,0.7)(1.4,-3.3)(0.3,0.1)(0.7,-0.6)(4.6,1.3)(5.6,0.2)(3.9,2.9)(1.9,-2.6)(2.2,-3.2)(3.1,-4.1)};
\addplot[sc, red] coordinates {(-2.63,-1.46)(-2.5,-1.7)(-2.45,-2.1)(-2.35,-1.9)(-1.6,-0.1)(-1.5,-0.2)(-1.4,-0.3)(-1.2,0.7)(-0.5,1.74)(-0.1,2.3)(0.55,2.35)(1.78,0.37)(1.9,0.3)(0.2,0.5)(-0.8,-0.6)(0.9,1.2)(0.4,-0.9)(-1.2,-1.6)(-0.3,0.9)(1.2,-0.2)(0.7,2.1)(-1.9,0.4)(-2.0,-2.5)(0.1,-1.9)(1.5,1.7)(-0.6,2.0)(-1.4,-2.6)(0.5,1.2)(-1.8,-0.9)(1.4,0.9)};
\addplot[ell, lblue] coordinates {(2.00,1.97)(1.51,2.50)(0.72,2.51)(-0.16,2.02)(-0.89,1.15)(-1.27,0.12)(-1.20,-0.77)(-0.71,-1.30)(0.08,-1.31)(0.96,-0.82)(1.69,0.05)(2.07,1.08)(2.00,1.97)(1.51,2.50)};
\addplot[ell, lpink] coordinates {(2.33,2.98)(1.71,3.03)(0.68,2.21)(-0.50,0.72)(-1.50,-1.03)(-2.06,-2.56)(-2.03,-3.48)(-1.41,-3.53)(-0.38,-2.71)(0.80,-1.22)(1.80,0.53)(2.36,2.06)(2.33,2.98)(1.71,3.03)};
\addplot[ell, lpink] coordinates {(1.95,2.35)(1.45,2.57)(0.64,2.17)(-0.26,1.28)(-1.01,0.12)(-1.41,-0.99)(-1.35,-1.75)(-0.85,-1.97)(-0.04,-1.57)(0.86,-0.68)(1.61,0.48)(2.01,1.59)(1.95,2.35)(1.45,2.57)};
\addplot[ell, blue] coordinates {(5.05,0.61)(4.65,1.67)(3.84,2.30)(2.83,2.35)(1.89,1.79)(1.28,0.78)(1.15,-0.41)(1.55,-1.47)(2.36,-2.10)(3.37,-2.15)(4.31,-1.59)(4.92,-0.58)(5.05,0.61)(4.65,1.67)};
\addplot[ell, blue] coordinates {(6.09,-1.80)(5.83,-0.80)(5.02,0.00)(3.86,0.41)(2.67,0.30)(1.78,-0.28)(1.41,-1.20)(1.67,-2.20)(2.48,-3.00)(3.64,-3.41)(4.83,-3.30)(5.72,-2.72)(6.09,-1.80)(5.83,-0.80)};
\addplot[ell, red] coordinates {(1.67,1.68)(1.17,2.06)(0.37,1.88)(-0.52,1.20)(-1.25,0.20)(-1.64,-0.86)(-1.57,-1.68)(-1.07,-2.06)(-0.27,-1.88)(0.62,-1.20)(1.35,-0.20)(1.74,0.86)(1.67,1.68)(1.17,2.06)};
\addplot[ell, red] coordinates {(1.51,1.66)(1.14,1.89)(0.52,1.69)(-0.19,1.12)(-0.79,0.33)(-1.13,-0.47)(-1.11,-1.06)(-0.74,-1.29)(-0.12,-1.09)(0.59,-0.52)(1.19,0.27)(1.53,1.07)(1.51,1.66)(1.14,1.89)};
\addlegendimage{only marks, mark=*, mark size=2.2pt, lblue}\addlegendentry{EC1 + 0 µg/mL}
\addlegendimage{only marks, mark=*, mark size=2.2pt, blue}\addlegendentry{EC1 + 0,064 µg/mL}
\addlegendimage{only marks, mark=*, mark size=2.2pt, lpink}\addlegendentry{EC3 + 0 µg/mL}
\addlegendimage{only marks, mark=*, mark size=2.2pt, red}\addlegendentry{EC3 + 0,064 µg/mL}
\end{axis}

\begin{axis}[rpanel, at={(557pt,467pt)}, anchor=north west, height=187pt,
  xmin=-14.6, xmax=8.8, ymin=-12.2, ymax=9.1, xtick={-10,-5,0,5}, ytick={-10,-5,0,5},
  xlabel={PC1 (27.2\%)}, ylabel={PC2 (9.8\%)},
  legend style={at={(1,1)}, anchor=north east}]
\addplot[sc, blue] coordinates {(-11.7,4.5)(-13.0,0.3)(-13.15,-0.84)(-13.3,-1.45)(-11.35,-3.74)(-11.08,-1.98)(-10.0,3.36)(-8.46,2.86)(-7.3,4.96)(-7.5,-7.18)(-4.8,-7.18)(-5.58,3.9)(-4.5,6.68)(-4.23,4.58)(-2.38,6.1)(1.04,3.24)(0.19,-7.56)(0.77,-8.0)(1.5,-8.0)(2.0,-8.3)(2.2,-8.6)(2.4,-8.9)(2.6,-9.2)(3.08,-9.92)(2.9,-9.4)(2.7,-8.1)(2.1,-6.87)(3.46,-6.68)(3.8,-6.7)(1.15,-6.1)(0.65,-5.53)(0.9,-5.0)(0.5,-4.6)(1.3,-7.0)(-0.5,-6.0)(2.5,-4.8)(3.1,-6.3)(-0.2,-4.2)(0.3,-3.9)(1.8,-3.1)(3.0,-2.9)(-10.2,0.5)(-10.3,-1.6)(-9.8,-1.4)(-10.0,-0.8)(-9.2,-2.9)(-9.0,1.8)(-9.3,0.9)(-8.9,-0.4)(-8.6,1.4)(-8.3,0.8)(-8.1,1.3)(-8.0,-0.2)(-7.9,-1.3)(-7.6,1.5)(-7.4,0.1)(-7.3,-2.2)(-7.2,1.2)(-7.0,-1.0)(-6.8,0.4)(-6.6,1.6)(-6.5,-1.5)(-6.3,-2.5)(-6.1,0.8)(-6.0,-0.6)(-5.8,1.3)(-5.7,-3.4)(-5.5,-2.2)(-5.4,0.0)(-5.2,1.8)(-5.0,-1.1)(-4.9,-2.6)(-4.7,0.6)(-4.6,3.0)(-4.4,-1.8)(-4.3,-3.7)(-4.1,-0.5)(-4.0,1.1)(-3.8,-2.4)(-3.7,-4.0)(-3.5,-0.4)(-3.3,2.2)(-3.2,-2.8)(-3.0,-1.2)(-2.8,0.3)(-2.7,-3.7)(-2.5,-2.1)(-2.3,-3.2)(-2.1,-0.9)(-2.0,1.3)(-1.8,-2.5)(-1.6,-3.6)(-1.4,-1.5)(-1.2,-2.9)(-1.0,0.6)(-0.8,-2.1)(-0.6,-3.3)(-0.3,-1.4)(0.0,-2.6)(0.2,-0.6)(0.6,-2.0)(1.0,-1.2)(-11.8,-0.9)(-12.2,1.6)(-10.7,2.1)(-9.6,-2.0)(-7.7,2.3)(-8.8,-3.1)(-6.9,-3.3)(-6.2,2.9)(-5.3,-4.0)(-2.0,3.0)(-1.0,2.4)};
\addplot[sc, red] coordinates {(-8.77,-4.12)(-8.27,-3.24)(-7.9,-3.6)(-7.5,-3.6)(-7.3,-3.2)(-8.08,-2.1)(-4.8,-2.29)(-6.0,-2.7)(-5.5,-1.8)(-4.5,-1.3)(-4.2,-0.6)(-3.8,-1.9)(-3.5,-2.6)(-3.2,-1.0)(-3.0,-2.2)(-2.8,-0.4)(-2.6,-1.6)(-2.4,-2.8)(-2.2,-0.8)(-2.0,-1.9)(-1.8,0.2)(-1.6,-1.1)(-1.4,-2.4)(-1.2,-0.3)(-1.0,-1.6)(-0.8,0.6)(-0.6,-0.9)(-0.4,-2.1)(-0.2,0.1)(0.0,-1.3)(0.2,0.9)(0.4,-0.5)(0.6,-1.8)(0.8,0.3)(1.0,-0.9)(1.2,1.2)(1.4,-0.2)(1.6,-1.4)(1.8,0.6)(2.0,-0.6)(2.2,1.5)(2.4,0.0)(2.6,-1.1)(2.8,0.8)(3.0,-0.3)(3.2,1.4)(3.4,0.2)(3.6,-0.8)(3.85,-2.1)(4.0,-2.3)(4.2,-2.7)(3.8,0.9)(4.0,0.0)(4.3,1.2)(4.6,-0.4)(4.8,0.5)(5.0,1.6)(5.2,-0.2)(5.4,0.9)(5.6,0.2)(5.9,0.7)(6.54,0.76)(6.2,0.6)(7.5,0.08)(5.3,-1.2)(4.4,-1.6)(2.8,-2.2)(1.3,-2.5)(-0.1,-2.8)(-1.5,-3.0)(-2.9,-3.3)(-4.2,-3.0)(6.7,-0.5)(5.7,1.5)(3.0,2.2)(1.8,2.2)(-5.2,-0.9)(-6.6,-1.6)(-7.6,-2.5)};
\addplot[sc, lpink] coordinates {(-4.0,0.5)(-3.5,-0.8)(-3.0,1.2)(-2.5,0.0)(-2.0,1.8)(-1.8,-1.0)(-1.5,0.8)(-1.0,2.3)(-0.8,-0.2)(-0.5,1.3)(-0.2,2.6)(0.0,0.3)(0.3,1.9)(0.5,-0.8)(0.7,2.8)(1.0,1.0)(1.2,2.4)(1.4,-0.4)(1.6,1.6)(1.9,2.7)(2.1,0.5)(2.3,2.0)(2.5,-0.6)(2.7,1.2)(2.9,2.5)(3.1,0.2)(3.3,1.7)(3.5,-1.0)(3.7,0.9)(3.9,2.1)(4.1,0.0)(4.3,1.5)(4.5,-0.7)(4.7,0.6)(4.9,1.8)(5.2,0.2)(5.5,1.0)(5.8,-0.3)(-11.35,-3.74)(-8.0,-4.77)(-6.6,-0.3)(5.58,-4.77)(0.7,2.3)(-1.2,-1.8)(-3.3,-1.6)(-4.5,-2.1)(1.5,-1.6)(3.0,-1.7)(2.0,3.2)(-2.7,2.0)(0.5,3.0)(-1.0,1.0)(-2.2,-1.6)(4.0,2.6)(6.2,1.3)};
\addplot[sc, lblue] coordinates {(-2.0,-0.3)(-1.7,0.6)(-1.5,-1.2)(-1.3,0.1)(-1.1,-0.7)(-0.9,1.0)(-0.7,-0.2)(-0.5,-1.3)(-0.3,0.5)(-0.1,-0.6)(0.1,1.2)(0.2,-0.1)(0.4,-1.1)(0.5,0.7)(0.7,-0.4)(0.9,1.4)(1.0,0.2)(1.2,-0.9)(1.3,0.9)(1.5,-0.2)(1.6,1.6)(1.8,0.4)(2.0,-0.7)(2.1,1.0)(2.3,0.0)(2.5,1.5)(2.7,-0.5)(2.9,0.6)(3.2,-0.2)(3.4,1.0)(-1.2,1.4)(0.0,-1.6)(1.1,-1.4)(2.2,-1.2)(-0.4,1.6)(0.6,2.2)(-2.3,0.8)(3.0,1.8)(-1.5,2.4)(1.4,2.6)(0.3,0.3)(0.8,0.8)(-0.6,0.3)(1.7,0.1)(2.6,0.7)(-0.2,-0.2)(1.0,-0.4)(0.5,1.8)(-1.0,-0.1)(2.4,-0.1)};
\addplot[ell, lblue] coordinates {(3.45,0.20)(2.97,0.70)(1.85,0.93)(0.40,0.83)(-1.00,0.43)(-1.97,-0.17)(-2.25,-0.80)(-1.77,-1.30)(-0.65,-1.53)(0.80,-1.43)(2.20,-1.03)(3.17,-0.43)(3.45,0.20)(2.97,0.70)};
\addplot[ell, blue] coordinates {(2.94,-7.27)(3.05,-5.44)(1.44,-2.74)(-1.45,0.11)(-4.85,2.34)(-7.85,3.35)(-9.64,2.87)(-9.75,1.04)(-8.14,-1.66)(-5.25,-4.51)(-1.85,-6.74)(1.15,-7.75)(2.94,-7.27)(3.05,-5.44)};
\addplot[ell, blue] coordinates {(0.96,-2.79)(0.60,-1.58)(-1.08,-0.21)(-3.62,0.95)(-6.34,1.58)(-8.52,1.53)(-9.56,0.79)(-9.20,-0.42)(-7.52,-1.79)(-4.98,-2.95)(-2.26,-3.58)(-0.08,-3.53)(0.96,-2.79)(0.60,-1.58)};
\addplot[ell, blue] coordinates {(0.80,-3.86)(0.77,-2.55)(-0.41,-0.98)(-2.41,0.42)(-4.71,1.28)(-6.68,1.37)(-7.80,0.66)(-7.77,-0.65)(-6.59,-2.22)(-4.59,-3.62)(-2.29,-4.48)(-0.32,-4.57)(0.80,-3.86)(0.77,-2.55)};
\addplot[ell, red] coordinates {(5.62,1.11)(4.69,1.60)(2.58,1.54)(-0.14,0.92)(-2.74,-0.08)(-4.53,-1.18)(-5.02,-2.11)(-4.09,-2.60)(-1.98,-2.54)(0.74,-1.92)(3.34,-0.92)(5.13,0.18)(5.62,1.11)(4.69,1.60)};
\addplot[ell, red] coordinates {(6.28,1.09)(5.52,1.54)(3.75,1.55)(1.47,1.12)(-0.73,0.36)(-2.25,-0.52)(-2.68,-1.29)(-1.92,-1.74)(-0.15,-1.75)(2.13,-1.32)(4.33,-0.56)(5.85,0.32)(6.28,1.09)(5.52,1.54)};
\addplot[ell, red] coordinates {(5.90,0.91)(5.33,1.32)(4.01,1.43)(2.28,1.21)(0.61,0.72)(-0.55,0.09)(-0.90,-0.51)(-0.33,-0.92)(0.99,-1.03)(2.72,-0.81)(4.39,-0.32)(5.55,0.31)(5.90,0.91)(5.33,1.32)};
\addlegendimage{only marks, mark=*, mark size=2.2pt, lblue}\addlegendentry{EC1 + 0 µg/mL}
\addlegendimage{only marks, mark=*, mark size=2.2pt, blue}\addlegendentry{EC1 + 8 µg/mL}
\addlegendimage{only marks, mark=*, mark size=2.2pt, lpink}\addlegendentry{EC2 + 0 µg/mL}
\addlegendimage{only marks, mark=*, mark size=2.2pt, red}\addlegendentry{EC2 + 8 µg/mL}
\end{axis}

% ================= row 3 =================
\begin{axis}[rpanel, lvax, at={(32pt,221pt)}, anchor=north west, ylabel={LV1}]
\addplot[black!55, line width=0.6pt, forget plot] coordinates {(606,0) (1794,0)};
\addplot[black, line width=0.6pt, forget plot] table{\gLV};
\addplot[black!50, forget plot] coordinates {(783,0.209) (783,0.230)};
\addplot[black!50, forget plot] coordinates {(1240,0.102) (1240,0.123)};
\addplot[black!50, forget plot] coordinates {(1483,0.200) (1483,0.221)};
\addplot[black!50, forget plot] coordinates {(1574,0.170) (1574,0.190)};
\addplot[black!50, forget plot] coordinates {(1125,-0.094) (1125,-0.117)};
\addplot[black!50, forget plot] coordinates {(1443,-0.167) (1443,-0.190)};
\node[ann] at (axis cs:783,0.247) {783};
\node[ann] at (axis cs:1240,0.139) {1240};
\node[ann] at (axis cs:1483,0.237) {1483};
\node[ann] at (axis cs:1574,0.207) {1574};
\node[ann] at (axis cs:1125,-0.133) {1125};
\node[ann] at (axis cs:1443,-0.213) {1443};
\end{axis}

\begin{axis}[rpanel, lvax, at={(295pt,221pt)}, anchor=north west, ylabel={LV1}]
\addplot[black!55, line width=0.6pt, forget plot] coordinates {(606,0) (1794,0)};
\addplot[black, line width=0.6pt, forget plot] table{\hLV};
\addplot[black!50, forget plot] coordinates {(783,0.201) (783,0.222)};
\addplot[black!50, forget plot] coordinates {(1240,0.118) (1240,0.139)};
\addplot[black!50, forget plot] coordinates {(1483,0.219) (1483,0.240)};
\addplot[black!50, forget plot] coordinates {(1574,0.158) (1574,0.178)};
\addplot[black!50, forget plot] coordinates {(1125,-0.140) (1125,-0.163)};
\addplot[black!50, forget plot] coordinates {(1443,-0.079) (1443,-0.101)};
\node[ann] at (axis cs:783,0.239) {783};
\node[ann] at (axis cs:1240,0.158) {1240};
\node[ann] at (axis cs:1483,0.259) {1483};
\node[ann] at (axis cs:1574,0.194) {1574};
\node[ann] at (axis cs:1125,-0.184) {1125};
\node[ann] at (axis cs:1443,-0.122) {1443};
\end{axis}

\begin{axis}[rpanel, lvax, at={(557pt,221pt)}, anchor=north west, ylabel={LV1}]
\addplot[black!55, line width=0.6pt, forget plot] coordinates {(606,0) (1794,0)};
\addplot[black, line width=0.6pt, forget plot] table{\iLV};
\addplot[black!50, forget plot] coordinates {(783,0.179) (783,0.200)};
\addplot[black!50, forget plot] coordinates {(1240,0.140) (1240,0.158)};
\addplot[black!50, forget plot] coordinates {(1483,0.207) (1483,0.229)};
\addplot[black!50, forget plot] coordinates {(1574,0.180) (1574,0.198)};
\addplot[black!50, forget plot] coordinates {(1125,-0.101) (1125,-0.123)};
\addplot[black!50, forget plot] coordinates {(1443,-0.130) (1443,-0.152)};
\node[ann] at (axis cs:783,0.216) {783};
\node[ann] at (axis cs:1240,0.176) {1240};
\node[ann] at (axis cs:1483,0.247) {1483};
\node[ann] at (axis cs:1574,0.216) {1574};
\node[ann] at (axis cs:1125,-0.143) {1125};
\node[ann] at (axis cs:1443,-0.174) {1443};
\end{axis}

% panel letters
\begin{scope}[every node/.style={anchor=base west, font=\bfseries\fontsize{16.5}{18}\selectfont, inner sep=0pt}]
\node at (7pt,716pt) {a}; \node at (272pt,716pt) {b}; \node at (532pt,716pt) {c};
\node at (7pt,472pt) {d}; \node at (272pt,472pt) {e}; \node at (532pt,472pt) {f};
\node at (7pt,226pt) {g}; \node at (272pt,226pt) {h}; \node at (532pt,226pt) {i};
\end{scope}

\pgfresetboundingbox
\path[use as bounding box] (0pt,0pt) rectangle (760pt,731pt);
\end{tikzpicture}
\end{document}
